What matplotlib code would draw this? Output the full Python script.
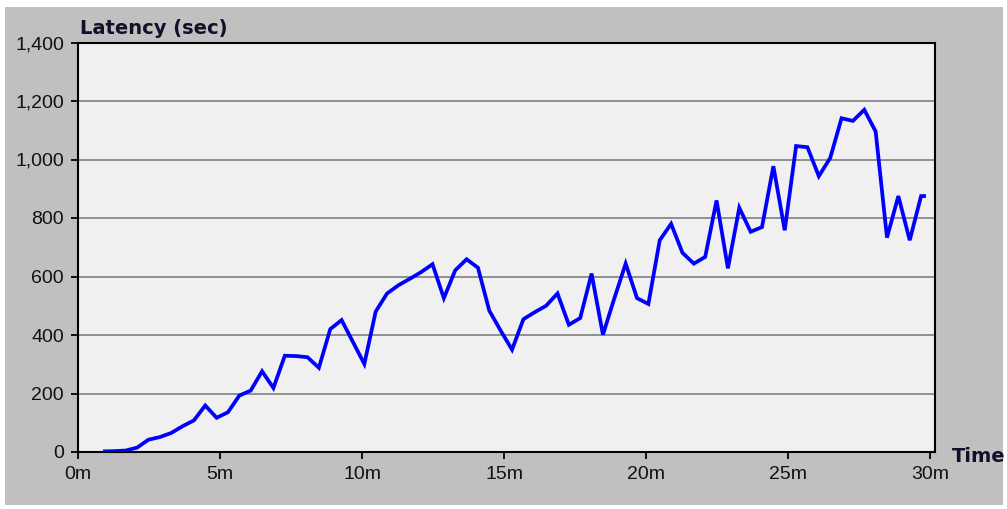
import matplotlib
matplotlib.use("Agg")
import matplotlib.pyplot as plt
from matplotlib.patches import Rectangle

# Elapsed time (minutes) and measured latency (seconds)
time_min = [0.88, 1.28, 1.68, 2.08, 2.48, 2.88, 3.28, 3.68, 4.08, 4.48,
            4.88, 5.28, 5.68, 6.08, 6.48, 6.88, 7.28, 7.68, 8.08, 8.48,
            8.88, 9.28, 9.68, 10.08, 10.48, 10.88, 11.28, 11.68, 12.08, 12.48,
            12.88, 13.28, 13.68, 14.08, 14.48, 14.88, 15.28, 15.68, 16.08, 16.48,
            16.88, 17.28, 17.68, 18.08, 18.48, 18.88, 19.28, 19.68, 20.08, 20.48,
            20.88, 21.28, 21.68, 22.08, 22.48, 22.88, 23.28, 23.68, 24.08, 24.48,
            24.88, 25.28, 25.68, 26.08, 26.48, 26.88, 27.28, 27.68, 28.08, 28.48,
            28.88, 29.28, 29.68, 29.85]
latency_sec = [2, 3, 5, 15, 42, 51, 65, 88, 108, 159,
               117, 136, 193, 210, 276, 219, 329, 328, 324, 288,
               420, 451, 376, 301, 480, 542, 570, 592, 615, 642,
               526, 621, 659, 630, 483, 415, 350, 454, 478, 500,
               542, 435, 458, 610, 401, 525, 644, 526, 506, 724,
               780, 681, 644, 667, 860, 628, 835, 753, 769, 977,
               758, 1046, 1042, 943, 1005, 1141, 1132, 1170, 1096, 733,
               875, 724, 875, 875]

x_ticks = [0, 5, 10, 15, 20, 25, 30]
x_labels = ["0m", "5m", "10m", "15m", "20m", "25m", "30m"]
y_ticks = [0, 200, 400, 600, 800, 1000, 1200, 1400]
y_labels = ["0", "200", "400", "600", "800", "1,000", "1,200", "1,400"]

W, H = 1007, 509
fig = plt.figure(figsize=(W / 100, H / 100), dpi=100, facecolor="white")

# grey panel behind the chart
fig.patches.append(Rectangle((5 / W, 4 / H), 998 / W, 498 / H,
                             transform=fig.transFigure, facecolor="#c0c0c0",
                             edgecolor="none", zorder=-10))

left, right, top, bottom = 78, 935, 42.5, 452
ax = fig.add_axes([left / W, 1 - bottom / H, (right - left) / W, (bottom - top) / H])
ax.set_facecolor("#f0f0f0")

for y in y_ticks[1:-1]:
    ax.axhline(y, color="#888888", lw=1.3, zorder=1)

ax.plot(time_min, latency_sec, color="#0000ff", lw=2.7,
        solid_joinstyle="miter", solid_capstyle="butt", zorder=3)

ax.set_xlim(0, 30.17)
ax.set_ylim(0, 1400)
ax.set_xticks(x_ticks)
ax.set_xticklabels(x_labels)
ax.set_yticks(y_ticks)
ax.set_yticklabels(y_labels)

for s in ax.spines.values():
    s.set_color("black")
    s.set_linewidth(1.5)

ax.tick_params(axis="both", direction="out", length=5, width=1.3, color="black",
               labelsize=14, labelcolor="#111111", pad=5)
for lab in ax.get_xticklabels() + ax.get_yticklabels():
    lab.set_family("Liberation Sans")

fig.text(80 / W, 1 - 34 / H, "Latency (sec)", fontsize=14, fontweight="bold",
         family="DejaVu Sans", color="#10102a", ha="left", va="baseline")
fig.text(952 / W, 1 - 456 / H, "Time", fontsize=14, fontweight="bold",
         family="DejaVu Sans", color="#10102a", ha="left", va="center")

fig.savefig("out.png", dpi=100, facecolor=fig.get_facecolor())
